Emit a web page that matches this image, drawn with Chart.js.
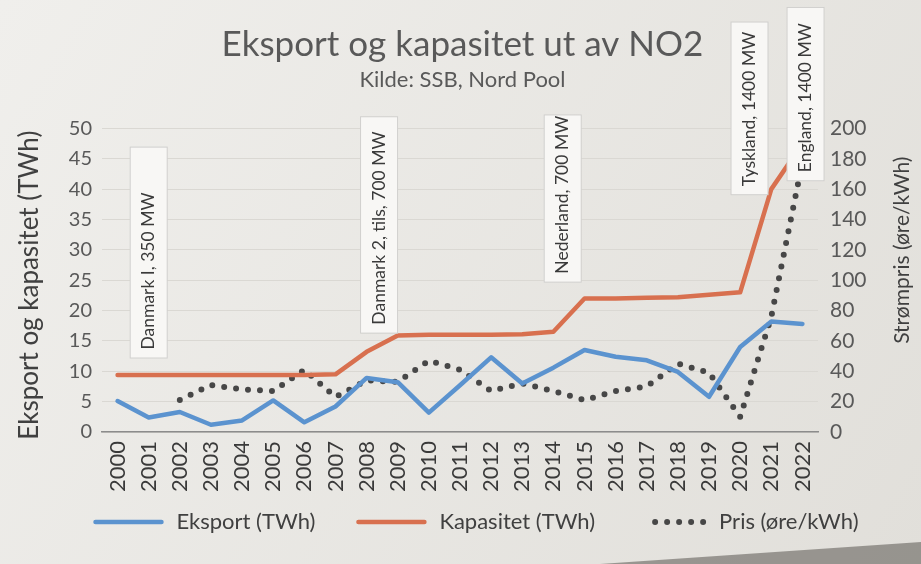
<!DOCTYPE html>
<html>
<head>
<meta charset="utf-8">
<script src="https://cdn.jsdelivr.net/npm/chart.js@4.4.1/dist/chart.umd.min.js"></script>
<style>
  html, body { margin: 0; padding: 0; background: #eae8e4; }
  #wrap { width: 921px; height: 564px; }
</style>
</head>
<body>
<div id="wrap"><canvas id="c" width="921" height="564"></canvas></div>
<script>
// ---- data ----
const years = ['2000','2001','2002','2003','2004','2005','2006','2007','2008','2009','2010',
               '2011','2012','2013','2014','2015','2016','2017','2018','2019','2020','2021','2022'];
const eksport   = [5.1, 2.4, 3.3, 1.2, 1.9, 5.2, 1.6, 4.2, 8.9, 8.2, 3.2,
                   7.7, 12.3, 8.0, 10.6, 13.5, 12.4, 11.8, 9.9, 5.8, 14.0, 18.2, 17.8];
const kapasitet = [9.4, 9.4, 9.4, 9.4, 9.4, 9.4, 9.4, 9.5, 13.2, 15.9, 16.0,
                   16.0, 16.0, 16.1, 16.5, 22.0, 22.0, 22.1, 22.2, 22.6, 23.0, 40.0, 47.5];
const pris      = [null, null, 21, 31, 28, 27, 41, 23, 34, 33, 47,
                   41, 27, 32, 27, 21, 27, 30, 45, 39, 10, 76, 178];

// annotation boxes (text, category position, value range in TWh)
const annoLabels = ['Danmark I, 350 MW', 'Danmark 2, tils, 700 MW', 'Nederland, 700 MW',
                    'Tyskland, 1400 MW', 'England, 1400 MW'];
const annoAt   = [1, 8.4, 14.3, 20.3, 22.1];
const annoFrom = [12.1, 16.2, 24.6, 39.0, 41.3];
const annoTo   = [47.0, 52.0, 52.3, 67.6, 70.0];

const titleText = 'Eksport og kapasitet ut av NO2';
const subtitleText = 'Kilde: SSB, Nord Pool';
const leftTitle = 'Eksport og kapasitet (TWh)';
const rightTitle = 'Strømpris (øre/kWh)';

const fam = "Lato, 'Open Sans', sans-serif";

const bgPlugin = {
  id: 'paper',
  beforeDraw(chart) {
    const { ctx, width, height } = chart;
    ctx.save();
    const g = ctx.createLinearGradient(0, 0, width, height);
    g.addColorStop(0, '#f0efec');
    g.addColorStop(1, '#e1dfda');
    ctx.fillStyle = g;
    ctx.fillRect(0, 0, width, height);
    ctx.fillStyle = 'rgba(90,85,80,0.55)';
    ctx.beginPath();
    ctx.moveTo(600, height);
    ctx.lineTo(width, height - 22);
    ctx.lineTo(width, height);
    ctx.closePath();
    ctx.fill();
    ctx.restore();
  }
};

const annoPlugin = {
  id: 'annos',
  afterDraw(chart) {
    const { ctx, chartArea } = chart;
    const xs = chart.scales.x, ys = chart.scales.y, y1 = chart.scales.y1;
    const midY = (chartArea.top + chartArea.bottom) / 2;
    ctx.save();
    annoLabels.forEach((txt, i) => {
      const cx = xs.getPixelForValue(annoAt[i]);
      const bottom = ys.getPixelForValue(annoFrom[i]);
      const top = ys.getPixelForValue(annoTo[i]);
      const w = 38;
      ctx.fillStyle = '#f8f7f5';
      ctx.fillRect(cx - w / 2, top, w, bottom - top);
      ctx.strokeStyle = 'rgba(0,0,0,0.16)';
      ctx.lineWidth = 1;
      ctx.strokeRect(cx - w / 2 + 0.5, top + 0.5, w - 1, bottom - top - 1);
      ctx.save();
      ctx.translate(cx, bottom - 9);
      ctx.rotate(-Math.PI / 2);
      ctx.fillStyle = '#3a3a3a';
      ctx.font = '17.5px ' + fam;
      ctx.textAlign = 'left';
      ctx.textBaseline = 'middle';
      ctx.fillText(txt, 0, 0);
      ctx.restore();
    });
    // axis titles, both reading bottom-to-top
    ctx.fillStyle = '#404040';
    ctx.textAlign = 'center';
    ctx.textBaseline = 'middle';
    ctx.save();
    ctx.translate(ys.left + 22, midY + 5);
    ctx.rotate(-Math.PI / 2);
    ctx.font = '26px ' + fam;
    ctx.fillText(leftTitle, 0, 0);
    ctx.restore();
    ctx.save();
    ctx.translate(y1.right - 15, midY - 30);
    ctx.rotate(-Math.PI / 2);
    ctx.font = '21px ' + fam;
    ctx.fillText(rightTitle, 0, 0);
    ctx.restore();

    // legend (line samples + labels) under the x axis
    const ds = chart.data.datasets;
    const sampleW = 72, gapIn = 12, gapOut = 40;
    ctx.font = '22px ' + fam;
    ctx.textAlign = 'left';
    const widths = ds.map(d => sampleW + gapIn + ctx.measureText(d.label).width);
    const total = widths.reduce((a, b) => a + b, 0) + gapOut * (ds.length - 1);
    let x = (chart.width - total) / 2 + 15;
    const ly = xs.bottom + 20;
    ds.forEach((d, i) => {
      ctx.save();
      ctx.strokeStyle = d.borderColor;
      ctx.lineWidth = d.borderWidth;
      ctx.lineCap = 'round';
      ctx.setLineDash(d.borderDash || []);
      ctx.beginPath();
      const s0 = d.borderDash ? x + 20 : x + 3;
      ctx.moveTo(s0, ly);
      ctx.lineTo(x + sampleW - 3, ly);
      ctx.stroke();
      ctx.restore();
      ctx.fillStyle = '#404040';
      ctx.fillText(d.label, x + sampleW + gapIn, ly);
      x += widths[i] + gapOut;
    });
    ctx.restore();
  }
};

new Chart(document.getElementById('c').getContext('2d'), {
  type: 'line',
  data: {
    labels: years,
    datasets: [
      { label: 'Eksport (TWh)', data: eksport, yAxisID: 'y',
        borderColor: '#5b93cf', backgroundColor: '#5b93cf', borderWidth: 4.5 },
      { label: 'Kapasitet (TWh)', data: kapasitet, yAxisID: 'y',
        borderColor: '#d8704f', backgroundColor: '#d8704f', borderWidth: 4.5 },
      { label: 'Pris (øre/kWh)', data: pris, yAxisID: 'y1',
        borderColor: '#474747', backgroundColor: '#474747', borderWidth: 6, borderDash: [0, 12] }
    ]
  },
  options: {
    responsive: false,
    animation: false,
    devicePixelRatio: 1,
    layout: { padding: { left: 8, right: 4, top: 0, bottom: 62 } },
    elements: {
      point: { radius: 0, hoverRadius: 0 },
      line: { tension: 0, borderCapStyle: 'round', borderJoinStyle: 'round' }
    },
    plugins: {
      title: { display: true, text: titleText, color: '#595959',
               font: { family: fam, size: 35, weight: 'normal' }, padding: { top: 24, bottom: 0 } },
      subtitle: { display: true, text: subtitleText, color: '#595959',
                  font: { family: fam, size: 22, weight: 'normal' }, padding: { top: 1, bottom: 35 } },
      legend: { display: false },
      tooltip: { enabled: false }
    },
    scales: {
      x: {
        offset: true,
        grid: { drawOnChartArea: false, drawTicks: false },
        border: { color: '#8c8c8c', width: 1.5 },
        ticks: { autoSkip: false, minRotation: 90, maxRotation: 90, padding: 9,
                 color: '#3a3a3a', font: { family: fam, size: 22 } },
        afterFit(s) { s.height = 70; }
      },
      y: {
        position: 'left', min: 0, max: 50,
        ticks: { stepSize: 5, padding: 10, color: '#595959', font: { family: fam, size: 20 } },
        grid: { color: '#dad8d3', drawTicks: false },
        border: { display: false },
        afterFit(s) { s.width = 94; }
      },
      y1: {
        position: 'right', min: 0, max: 200,
        ticks: { stepSize: 20, padding: 12, color: '#595959', font: { family: fam, size: 21 } },
        grid: { drawOnChartArea: false, drawTicks: false },
        border: { display: false },
        afterFit(s) { s.width = 99; }
      }
    }
  },
  plugins: [bgPlugin, annoPlugin]
});
</script>
</body>
</html>
